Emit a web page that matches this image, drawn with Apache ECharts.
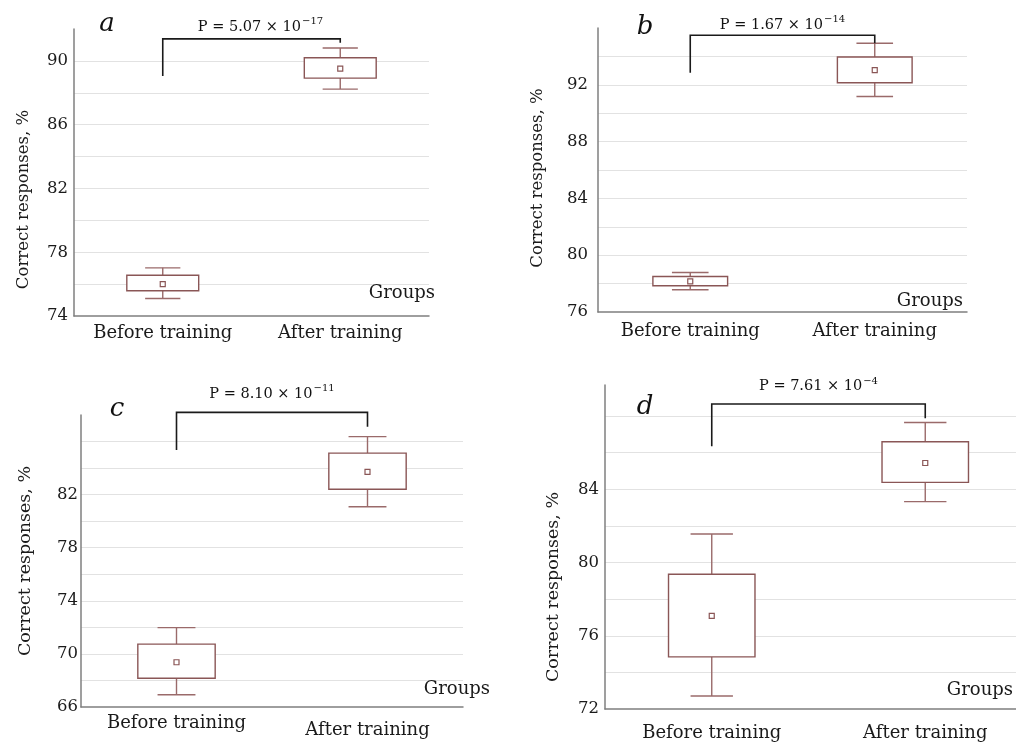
<!DOCTYPE html>
<html><head><meta charset="utf-8">
<script src="https://cdn.jsdelivr.net/npm/echarts@6/dist/echarts.min.js"></script>
<style>html,body{margin:0;padding:0;background:#fff}#c{width:1016px;height:743px}</style>
</head><body><div id="c"></div>
<script>
// ---------------- data ----------------
const categories = ['Before training', 'After training'];
const panelLetters = ['a', 'b', 'c', 'd'];
// each group: [lower whisker, lower box edge, mean, upper box edge, upper whisker]
const boxA = [[75.10, 75.58, 76.00, 76.56, 77.02], [88.23, 88.92, 89.52, 90.20, 90.81]];
const boxB = [[77.57, 77.85, 78.15, 78.50, 78.78], [91.18, 92.14, 93.03, 93.96, 94.93]];
const boxC = [[66.92, 68.17, 69.37, 70.74, 71.98], [81.09, 82.41, 83.71, 85.13, 86.37]];
const boxD = [[72.71, 74.85, 77.09, 79.36, 81.56], [83.33, 84.38, 85.44, 86.60, 87.65]];
const yMinA = 74, yMaxA = 92;
const yMinB = 76, yMaxB = 96;
const yMinC = 66, yMaxC = 88;
const yMinD = 72, yMaxD = 89.7;
const yStep = 2;
const tickLabelsA = [74, 78, 82, 86, 90];
const tickLabelsB = [76, 80, 84, 88, 92];
const tickLabelsC = [66, 70, 74, 78, 82];
const tickLabelsD = [72, 76, 80, 84];
const pMantissa = ['5.07', '1.67', '8.10', '7.61'];
const pExponent = ['\u221217', '\u221214', '\u221211', '\u22124'];
// bracket: [bar level, left end, right end]
const bracketA = [91.38, 89.06, 91.14];
const bracketB = [95.49, 92.84, 94.93];
const bracketC = [88.20, 85.36, 87.12];
const bracketD = [88.66, 86.36, 87.89];
const yAxisName = 'Correct responses, %';
const xAxisName = 'Groups';

// ---------------- layout / style ----------------
const FONT = "'DejaVu Serif', serif";
const panels = [
  { box: boxA, min: yMinA, max: yMaxA, labels: tickLabelsA, br: bracketA,
    grid: { left: 74, top: 29, width: 355, height: 287 },
    yLabelMargin: 6, yNameGap: 42, yNameShift: 27, yNameSize: 16.5,
    xLabelMargin: 8, xLabelExtra: 0, groupsGap: 6, groupsPad: 14,
    pOffset: 13, pShift: 9, letter: [107, 24] },
  { box: boxB, min: yMinB, max: yMaxB, labels: tickLabelsB, br: bracketB,
    grid: { left: 598, top: 28, width: 369, height: 284 },
    yLabelMargin: 10, yNameGap: 52, yNameShift: 8, yNameSize: 16.5,
    xLabelMargin: 10, xLabelExtra: 0, groupsGap: -4, groupsPad: 2,
    pOffset: 12, pShift: 0, letter: [645, 27] },
  { box: boxC, min: yMinC, max: yMaxC, labels: tickLabelsC, br: bracketC,
    grid: { left: 81, top: 415, width: 382, height: 292 },
    yLabelMargin: 3, yNameGap: 47, yNameShift: 0, yNameSize: 17.5,
    xLabelMargin: 7, xLabelExtra: 7, groupsGap: 27, groupsPad: 9,
    pOffset: 20, pShift: 0, letter: [117, 409] },
  { box: boxD, min: yMinD, max: yMaxD, labels: tickLabelsD, br: bracketD,
    grid: { left: 605, top: 385, width: 427, height: 324 },
    yLabelMargin: 6, yNameGap: 43, yNameShift: 40, yNameSize: 17.5,
    xLabelMargin: 15, xLabelExtra: 0, groupsGap: -19, groupsPad: 10,
    pOffset: 19, pShift: 0, letter: [645, 407] }
];

const BOX_COLOR = '#8a5656';
const WHISKER_COLOR = '#9a6a6a';

function renderBox(params, api) {
  const g = api.value(0);
  const lo = api.coord([g, api.value(1)]);
  const q1 = api.coord([g, api.value(2)]);
  const mn = api.coord([g, api.value(3)]);
  const q3 = api.coord([g, api.value(4)]);
  const hi = api.coord([g, api.value(5)]);
  const band = api.size([1, 0])[0];
  const bw = band * 0.405, cw = bw * 0.49;
  const x = lo[0];
  const ls = { stroke: WHISKER_COLOR, lineWidth: 1.4 };
  return {
    type: 'group',
    children: [
      { type: 'line', shape: { x1: x, y1: q3[1], x2: x, y2: hi[1] }, style: ls },
      { type: 'line', shape: { x1: x, y1: q1[1], x2: x, y2: lo[1] }, style: ls },
      { type: 'line', shape: { x1: x - cw / 2, y1: hi[1], x2: x + cw / 2, y2: hi[1] }, style: ls },
      { type: 'line', shape: { x1: x - cw / 2, y1: lo[1], x2: x + cw / 2, y2: lo[1] }, style: ls },
      { type: 'rect', shape: { x: x - bw / 2, y: q3[1], width: bw, height: q1[1] - q3[1] },
        style: { fill: '#fff', stroke: BOX_COLOR, lineWidth: 1.4 } },
      { type: 'rect', shape: { x: x - 2.5, y: mn[1] - 2.5, width: 5, height: 5 },
        style: { fill: '#fff', stroke: BOX_COLOR, lineWidth: 1.2 } }
    ]
  };
}

function makeBracketRenderer(pi) {
  return function (params, api) {
    const top = api.value(1), lb = api.value(2), rb = api.value(3);
    const l0 = api.coord([0, top]), l1 = api.coord([0, lb]);
    const r0 = api.coord([1, top]), r1 = api.coord([1, rb]);
    const ls = { stroke: '#1a1a1a', lineWidth: 1.6 };
    const cx = (l0[0] + r0[0]) / 2 + panels[pi].pShift;
    return {
      type: 'group',
      children: [
        { type: 'polyline', shape: { points: [l1, l0, r0, r1] }, style: Object.assign({ fill: null }, ls) },
        { type: 'text', x: cx, y: l0[1] - panels[pi].pOffset,
          style: {
            text: '{m|P = ' + pMantissa[pi] + ' \u00d7 10}{e|' + pExponent[pi] + '}',
            align: 'center', verticalAlign: 'middle',
            rich: {
              m: { fontFamily: FONT, fontSize: 14.5, fill: '#111', lineHeight: 18, verticalAlign: 'bottom' },
              e: { fontFamily: FONT, fontSize: 10, fill: '#111', lineHeight: 18, verticalAlign: 'top', padding: [0, 0, 0, 1] }
            }
          } }
      ]
    };
  };
}

const grid = [], xAxis = [], yAxis = [], series = [], graphic = [];
panels.forEach((p, i) => {
  grid.push(Object.assign({ containLabel: false, outerBoundsMode: 'none' }, p.grid));
  xAxis.push({
    type: 'category', gridIndex: i, data: categories, boundaryGap: true,
    axisLine: { lineStyle: { color: '#7f7f7f', width: 1.5 } },
    axisTick: { alignWithLabel: true, length: 4, lineStyle: { color: '#7f7f7f' } },
    axisLabel: {
      interval: 0, hideOverlap: false,
      margin: p.xLabelMargin, color: '#1a1a1a', fontFamily: FONT, fontSize: 18,
      formatter: (v, idx) => idx === 1 ? '{b|' + v + '}' : '{a|' + v + '}',
      rich: {
        a: { fontFamily: FONT, fontSize: 18, color: '#1a1a1a' },
        b: { fontFamily: FONT, fontSize: 18, color: '#1a1a1a', padding: [p.xLabelExtra, 0, 0, 0] }
      }
    },
    splitLine: { show: false },
    name: xAxisName, nameLocation: 'end', nameGap: p.groupsGap,
    nameTextStyle: { fontFamily: FONT, fontSize: 18, color: '#1a1a1a', align: 'right', verticalAlign: 'bottom', padding: [0, 0, p.groupsPad, 0] }
  });
  const labels = p.labels;
  yAxis.push({
    type: 'value', gridIndex: i, min: p.min, max: p.max, interval: yStep,
    axisLine: { show: true, lineStyle: { color: '#7f7f7f', width: 1.5 } },
    axisTick: { show: false },
    axisLabel: {
      margin: p.yLabelMargin, color: '#1a1a1a', fontFamily: FONT, fontSize: 16.5,
      formatter: v => labels.indexOf(v) >= 0 ? String(v) : ''
    },
    splitLine: { show: true, showMinLine: false, showMaxLine: false, lineStyle: { color: '#e2e2e2', width: 1 } },
    name: yAxisName, nameLocation: 'middle', nameGap: p.yNameGap,
    nameTextStyle: { fontFamily: FONT, fontSize: p.yNameSize, color: '#1a1a1a',
      padding: p.yNameShift > 0 ? [0, p.yNameShift * 2, 0, 0] : [0, 0, 0, -p.yNameShift * 2] }
  });
  series.push({
    type: 'custom', xAxisIndex: i, yAxisIndex: i,
    dimensions: ['group', 'low', 'q1', 'mean', 'q3', 'high'],
    encode: { x: 0, y: [1, 2, 3, 4, 5] },
    renderItem: renderBox, clip: false,
    data: p.box.map((b, gi) => [gi].concat(b))
  });
  series.push({
    type: 'custom', xAxisIndex: i, yAxisIndex: i,
    dimensions: ['group', 'top', 'left', 'right'],
    encode: { x: 0, y: [1, 2, 3] },
    renderItem: makeBracketRenderer(i), clip: false,
    data: [[0].concat(p.br)]
  });
  graphic.push({
    type: 'text', x: p.letter[0], y: p.letter[1],
    style: { text: panelLetters[i], font: 'italic 26px ' + FONT, fill: '#111', align: 'center', verticalAlign: 'middle' }
  });
});

const chart = echarts.init(document.getElementById('c'), null, { renderer: 'canvas' });
chart.setOption({
  backgroundColor: '#fff',
  animation: false,
  grid, xAxis, yAxis, series, graphic
});
</script>
</body></html>
